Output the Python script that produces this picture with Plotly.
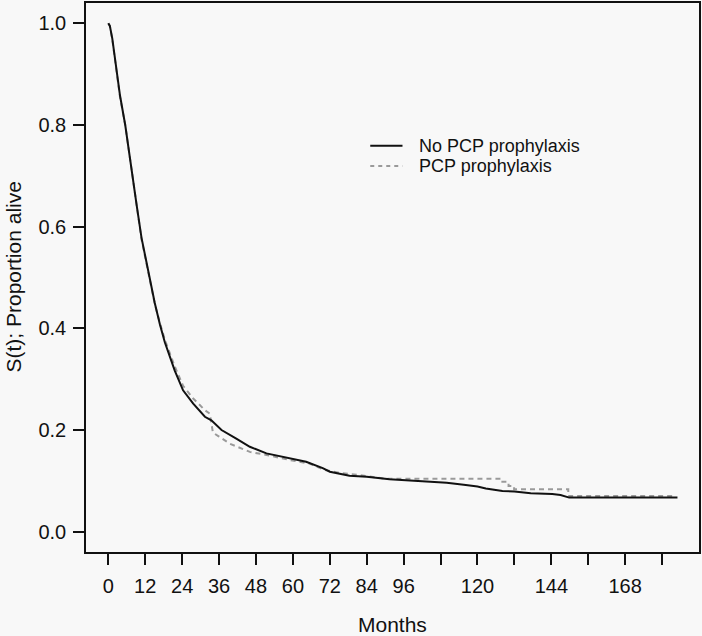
import plotly.graph_objects as go

# ---- data ----
months_no_pcp = [0, 0.5, 1.3, 3.8, 5.5, 7.8, 9.2, 10.8, 13.0, 15.1, 16.8, 18.4, 21.6, 24.3, 27.6,
                 31.4, 33.5, 36.8, 41.6, 46, 51.4, 58.9, 64.3, 69.7, 72, 78.4, 84, 91.4, 98,
                 104.3, 110, 116.2, 120, 122.7, 128.1, 132, 137.3, 144.3, 147, 149.8, 185]
surv_no_pcp = [1.0, 0.995, 0.97, 0.858, 0.80, 0.708, 0.643, 0.578, 0.512, 0.450, 0.407, 0.372,
               0.317, 0.278, 0.252, 0.226, 0.219, 0.200, 0.183, 0.167, 0.154, 0.144, 0.1375,
               0.125, 0.118, 0.110, 0.108, 0.103, 0.101, 0.098, 0.096, 0.092, 0.089, 0.085,
               0.080, 0.079, 0.0757, 0.074, 0.072, 0.067, 0.067]

months_pcp = [0, 0.5, 1.3, 3.8, 5.5, 7.8, 9.2, 10.8, 13.0, 15.1, 16.8, 18.4, 21.6, 24.3, 27.6,
              31.4, 33.0, 34.0, 36, 39.5, 46, 51.4, 58.9, 65.4, 70, 75, 81.6, 90,
              127.6, 127.6, 130.1, 130.1, 131.9, 131.9, 149.5, 149.5, 184]
surv_pcp = [1.0, 0.995, 0.968, 0.855, 0.80, 0.705, 0.64, 0.575, 0.51, 0.448, 0.410, 0.377,
            0.325, 0.287, 0.262, 0.239, 0.232, 0.195, 0.187, 0.173, 0.157, 0.151, 0.141,
            0.134, 0.122, 0.116, 0.1115, 0.104, 0.104, 0.098, 0.098, 0.090, 0.090, 0.0835,
            0.0835, 0.070, 0.070]

x_tick_vals = [0, 12, 24, 36, 48, 60, 72, 84, 96, 108, 120, 132, 144, 156, 168, 180]
x_tick_text = ["0", "12", "24", "36", "48", "60", "72", "84", "96", "", "120", "", "144", "", "168", ""]
y_tick_vals = [0.0, 0.2, 0.4, 0.6, 0.8, 1.0]
y_tick_text = ["0.0", "0.2", "0.4", "0.6", "0.8", "1.0"]

series_names = ["No PCP prophylaxis", "PCP prophylaxis"]

FONT = "Liberation Sans, Arial, Helvetica, sans-serif"
BG = "#f8f8f8"
INK = "#111111"
GRAY = "#9a9a9a"

fig = go.Figure()
fig.add_trace(go.Scatter(x=months_pcp, y=surv_pcp, mode="lines", name=series_names[1],
                         line=dict(color=GRAY, width=2, dash="5px,4px"), showlegend=False))
fig.add_trace(go.Scatter(x=months_no_pcp, y=surv_no_pcp, mode="lines", name=series_names[0],
                         line=dict(color=INK, width=2), showlegend=False))

axis_common = dict(showgrid=False, zeroline=False, showline=True, linecolor=INK, linewidth=1.5,
                   mirror=True, ticks="outside", ticklen=11, tickwidth=1.5, tickcolor=INK,
                   tickfont=dict(family=FONT, size=20, color=INK))

fig.update_xaxes(range=[-7.25, 192], tickmode="array", tickvals=x_tick_vals, ticktext=x_tick_text,
                 ticklabelstandoff=4, **axis_common)
fig.update_yaxes(range=[-0.04, 1.04], tickmode="array", tickvals=y_tick_vals, ticktext=y_tick_text,
                 ticklabelstandoff=3, **axis_common)

# legend drawn as keys + text in paper coordinates
leg_x0, leg_x1, leg_tx = 0.4637, 0.5163, 0.5402
leg_y = [0.740, 0.7029]
fig.add_shape(type="line", xref="paper", yref="paper", x0=leg_x0, x1=leg_x1, y0=leg_y[0], y1=leg_y[0],
              line=dict(color=INK, width=2))
fig.add_shape(type="line", xref="paper", yref="paper", x0=leg_x0, x1=leg_x1, y0=leg_y[1], y1=leg_y[1],
              line=dict(color=GRAY, width=2, dash="4px,4px"))
for name, yy in zip(series_names, leg_y):
    fig.add_annotation(text=name, xref="paper", yref="paper", x=leg_tx, y=yy, xanchor="left",
                       yanchor="middle", showarrow=False, font=dict(family=FONT, size=18, color=INK))

fig.add_annotation(text="Months", xref="paper", yref="paper", x=0.5, y=0, yshift=-72,
                   xanchor="center", yanchor="middle", showarrow=False,
                   font=dict(family=FONT, size=21, color=INK))
fig.add_annotation(text="S(t); Proportion alive", xref="paper", yref="paper", x=0, xshift=-73,
                   y=0.5, xanchor="center", yanchor="middle", textangle=-90, showarrow=False,
                   font=dict(family=FONT, size=21, color=INK))

fig.update_layout(width=702, height=636, margin=dict(l=86, r=2, t=1, b=84),
                  paper_bgcolor=BG, plot_bgcolor=BG, showlegend=False)

fig.write_html("out.html", config={"displayModeBar": False},
               post_script="document.body.style.margin='0';document.body.style.background='#f8f8f8';")
